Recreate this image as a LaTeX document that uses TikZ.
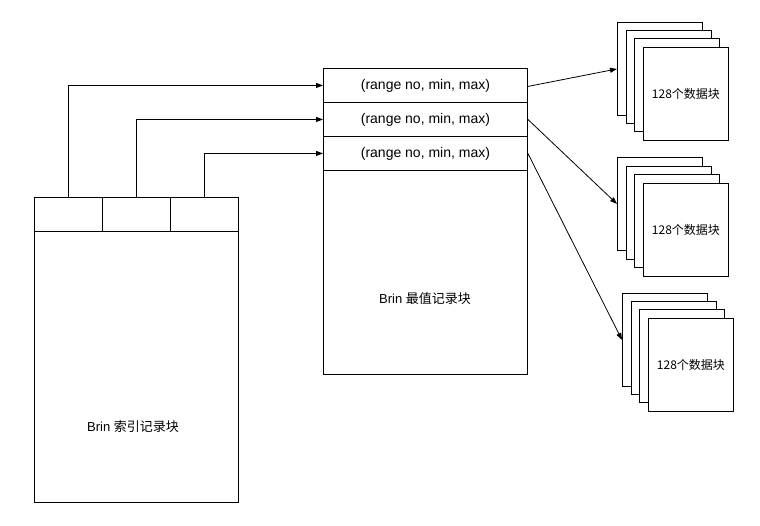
\documentclass[tikz,border=0pt]{standalone}
\usepackage{fontspec}
\setmainfont{Liberation Sans}
\newfontfamily\cjk{Noto Sans CJK SC}
\usetikzlibrary{arrows.meta}
\begin{document}
\begin{tikzpicture}[x=1pt,y=-1pt,
  cell/.style={draw=black,line width=0.9pt,inner sep=0pt,anchor=north west,minimum width=68pt,minimum height=34pt},
  rowc/.style={draw=black,line width=0.9pt,inner sep=0pt,anchor=north west,minimum width=204pt,minimum height=34pt,font=\fontsize{14}{16}\selectfont},
  page/.style={draw=black,fill=white,line width=0.9pt,anchor=north west,minimum width=85pt,minimum height=93pt,inner sep=0pt,font=\fontsize{12}{14}\selectfont},
  conn/.style={line width=0.8pt,-{Triangle[length=7pt,width=5pt]}},
  lbl/.style={font=\fontsize{13}{15}\selectfont,inner sep=0pt}]
\useasboundingbox (0,0) rectangle (760,526);
% left block
\draw[line width=0.9pt] (34,197) rectangle (238,502);
\node[lbl] (lefttext) at (133,427) {Brin {\cjk 索引记录块}};
\node[cell] (c1) at (34,197) {};
\node[cell] (c2) at (102,197) {};
\node[cell] (c3) at (170,197) {};
% middle block
\draw[line width=0.9pt] (323,68) rectangle (527,374);
\node[lbl] (midtext) at (425,299) {Brin {\cjk 最值记录块}};
\node[rowc] (r1) at (323,68) {(range no, min, max)};
\node[rowc] (r2) at (323,102) {(range no, min, max)};
\node[rowc] (r3) at (323,136) {(range no, min, max)};
% connectors left -> middle
\draw[conn] (c1.north) |- (r1.west);
\draw[conn] (c2.north) |- (r2.west);
\draw[conn] (c3.north) |- (r3.west);
% stacks
\node[page] (s1a) at (617,22) {};
\node[page] (s1b) at (626,30) {};
\node[page] (s1c) at (634,38) {};
\node[page] (s1d) at (643,47) {{\cjk 128个数据块}};
\node[page] (s2a) at (617,157) {};
\node[page] (s2b) at (626,166) {};
\node[page] (s2c) at (634,174) {};
\node[page] (s2d) at (643,183) {{\cjk 128个数据块}};
\node[page] (s3a) at (622,293) {};
\node[page] (s3b) at (631,301) {};
\node[page] (s3c) at (639,309) {};
\node[page] (s3d) at (648,318) {{\cjk 128个数据块}};
% connectors middle -> stacks
\draw[conn] ([yshift=-1pt]r1.east) -- (s1a.west);
\draw[conn] (r2.east) -- (s2a.west);
\draw[conn] (r3.east) -- (s3a.west);
\end{tikzpicture}
\end{document}
